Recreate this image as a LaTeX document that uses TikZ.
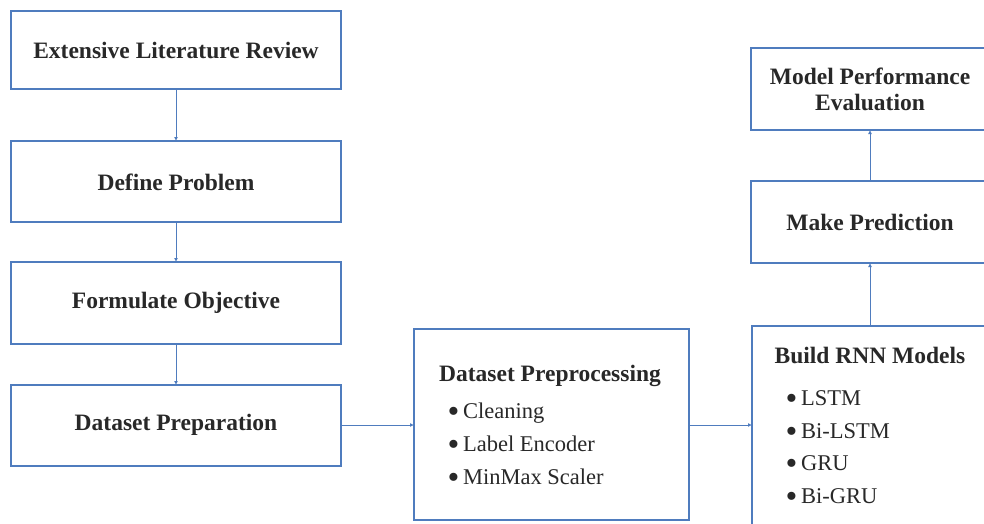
\documentclass[tikz,border=0pt]{standalone}
\usepackage{fontspec}
\setmainfont{Liberation Serif}
\usetikzlibrary{arrows.meta}
\definecolor{flowblue}{RGB}{79,124,190}
\definecolor{inktext}{RGB}{40,40,40}
\newcommand{\itembul}{\raisebox{-0.17em}{\scalebox{1.5}{\textbullet}}\,}
\begin{document}
\begin{tikzpicture}[x=1pt,y=-1pt,
  stepbox/.style={draw=flowblue,line width=1.3pt,fill=white,text=inktext},
  link/.style={draw=flowblue,line width=0.9pt,-{Latex[length=4pt,width=4pt]}},
  headtext/.style={text=inktext,font=\fontsize{23.5}{26}\selectfont\bfseries,align=center},
  itemtext/.style={text=inktext,font=\fontsize{22.5}{25}\selectfont,anchor=west}]
\useasboundingbox (0,0) rectangle (984,524);
\clip (0,0) rectangle (984,524);

% left column
\path[stepbox] (11,11) rectangle (341,89);
\node[headtext] (lit) at (176,50) {Extensive Literature Review};
\path[stepbox] (11,141) rectangle (341,222);
\node[headtext] (def) at (176,182) {Define Problem};
\path[stepbox] (11,262) rectangle (341,344);
\node[headtext] (obj) at (176,303) {Formulate Objective};
\path[stepbox] (11,385) rectangle (341,466);
\node[headtext] (prep) at (176,425) {Dataset Preparation};

% anchors on the box edges
\coordinate (litB) at (176,89);
\coordinate (defT) at (176,141);
\coordinate (defB) at (176,222);
\coordinate (objT) at (176,262);
\coordinate (objB) at (176,344);
\coordinate (prepT) at (176,385);
\coordinate (prepR) at (341,425);

% preprocessing box
\path[stepbox] (414,329) rectangle (689,520);
\coordinate (ppL) at (414,425);
\coordinate (ppR) at (689,425);
\node[headtext] (pphead) at (550,376) {Dataset Preprocessing};
\node[itemtext] (pp1) at (444,413) {\itembul Cleaning};
\node[itemtext] (pp2) at (444,446) {\itembul Label Encoder};
\node[itemtext] (pp3) at (444,479) {\itembul MinMax Scaler};

% right column
\path[stepbox] (751,48) rectangle (1000,130);
\node[headtext] (eval) at (870,89) {Model Performance\\Evaluation};
\path[stepbox] (751,181) rectangle (1000,263);
\node[headtext] (pred) at (870,222) {Make Prediction};
\path[stepbox] (752,326) rectangle (1000,540);
\node[headtext] (rnnhead) at (870,355) {Build RNN Models};
\node[itemtext] (r1) at (782,400) {\itembul LSTM};
\node[itemtext] (r2) at (782,433) {\itembul Bi-LSTM};
\node[itemtext] (r3) at (782,465) {\itembul GRU};
\node[itemtext] (r4) at (782,498) {\itembul Bi-GRU};

\coordinate (evalB) at (870,130);
\coordinate (predT) at (870,181);
\coordinate (predB) at (870,263);
\coordinate (rnnT) at (870,326);
\coordinate (rnnL) at (752,425);

% connectors
\draw[link] (litB) -- (defT);
\draw[link] (defB) -- (objT);
\draw[link] (objB) -- (prepT);
\draw[link] (prepR) -- (ppL);
\draw[link] (ppR) -- (rnnL);
\draw[link] (rnnT) -- (predB);
\draw[link] (predT) -- (evalB);
\end{tikzpicture}
\end{document}
